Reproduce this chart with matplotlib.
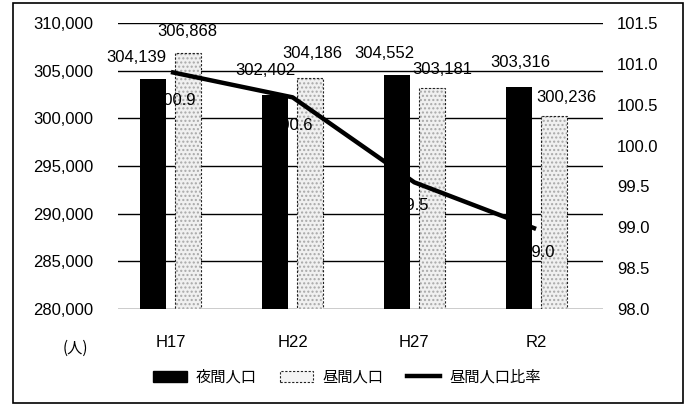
import matplotlib
matplotlib.use("Agg")
import matplotlib.pyplot as plt
from matplotlib.patches import Patch, Rectangle
from matplotlib.lines import Line2D
import numpy as np

categories = ["H17", "H22", "H27", "R2"]
night_pop = [304139, 302402, 304552, 303316]
day_pop = [306868, 304186, 303181, 300236]
ratio = [100.90, 100.59, 99.55, 98.98]
left_ticks = [280000, 285000, 290000, 295000, 300000, 305000, 310000]
right_ticks = [98.0, 98.5, 99.0, 99.5, 100.0, 100.5, 101.0, 101.5]

# label offsets in pixels (dx, dy) relative to bar top / line point
night_off = [(-17, 21), (-10, 25), (-12, 21), (2, 24)]
day_off = [(-1, 21), (2, 25), (10, 19), (13, 19)]
ratio_off = [(5, -28), (0, -28), (-2, -23), (2, -24)]

NUM_FONT = "Liberation Sans"
CJK_FONT = ["Noto Sans CJK JP", "DejaVu Sans"]
FS = 12

W, H = 689, 407
fig = plt.figure(figsize=(W / 100, H / 100), dpi=100)
ax = fig.add_axes([118 / W, 1 - 309 / H, (603 - 118) / W, (309 - 23) / H])
ax2 = ax.twinx()

x = np.arange(len(categories))
bw = 0.214
off = 0.144

ax.set_ylim(280000, 310000)
ax.set_xlim(-0.435, 3.55)
ax2.set_ylim(98.0, 101.5)

for yv in left_ticks:
    ax.axhline(yv, color="black", lw=1.0, zorder=0)

ax.bar(x - off, night_pop, bw, color="black", zorder=2)
ax.bar(x + off, day_pop, bw, color="#f0f0f0", edgecolor="#a8a8a8", hatch="....",
       lw=0, zorder=2)
ax.bar(x + off, day_pop, bw, color="none", edgecolor="#222222", lw=0.8,
       linestyle=(0, (2, 1.5)), zorder=3)

ax2.plot(x, ratio, color="black", lw=3.2, zorder=5, solid_capstyle="butt")

for i in range(len(categories)):
    ax.annotate(f"{night_pop[i]:,}", (x[i] - off, night_pop[i]), xytext=night_off[i],
                textcoords="offset pixels", ha="center", va="center",
                fontsize=FS, family=NUM_FONT, zorder=6)
    ax.annotate(f"{day_pop[i]:,}", (x[i] + off, day_pop[i]), xytext=day_off[i],
                textcoords="offset pixels", ha="center", va="center",
                fontsize=FS, family=NUM_FONT, zorder=6)
    ax2.annotate(f"{ratio[i]:.1f}", (x[i], ratio[i]), xytext=ratio_off[i],
                 textcoords="offset pixels", ha="center", va="center",
                 fontsize=FS, family=NUM_FONT, zorder=6)

ax.set_zorder(ax2.get_zorder() - 1)
ax.patch.set_visible(False)
ax2.patch.set_visible(False)

ax.set_xticks(x)
ax.set_xticklabels(categories, fontsize=FS, family=NUM_FONT)
ax.set_yticks(left_ticks)
ax.set_yticklabels([f"{v:,}" for v in left_ticks], fontsize=FS, family=NUM_FONT)
ax2.set_yticks(right_ticks)
ax2.set_yticklabels([f"{v:.1f}" for v in right_ticks], fontsize=FS, family=NUM_FONT)

ax.tick_params(axis="x", length=0, pad=19)
ax.tick_params(axis="y", length=0, pad=18)
ax2.tick_params(axis="y", length=0, pad=10)
for a in (ax, ax2):
    for s in a.spines.values():
        s.set_visible(False)

fig.text(75 / W, 1 - 348 / H, "(人)", ha="center", va="center", fontsize=11,
         family=CJK_FONT)

handles = [
    Patch(facecolor="black", edgecolor="black"),
    Patch(facecolor="#f4f4f4", edgecolor="#222222", lw=0.8, linestyle=(0, (2, 1.5))),
    Line2D([0], [0], color="black", lw=3.2),
]
labels = ["夜間人口", "昼間人口", "昼間人口比率"]
fig.legend(handles, labels, loc="center", bbox_to_anchor=(347 / W, 1 - 377 / H),
           ncol=3, frameon=False, prop={"family": CJK_FONT, "size": 11},
           handlelength=2.2, handletextpad=0.6, columnspacing=1.5)

fig.patches.append(Rectangle((13 / W, 1 - 403 / H), (683 - 13) / W, (403 - 3) / H,
                             transform=fig.transFigure, fill=False,
                             edgecolor="black", lw=1.2))

fig.savefig("out.png", dpi=100)
